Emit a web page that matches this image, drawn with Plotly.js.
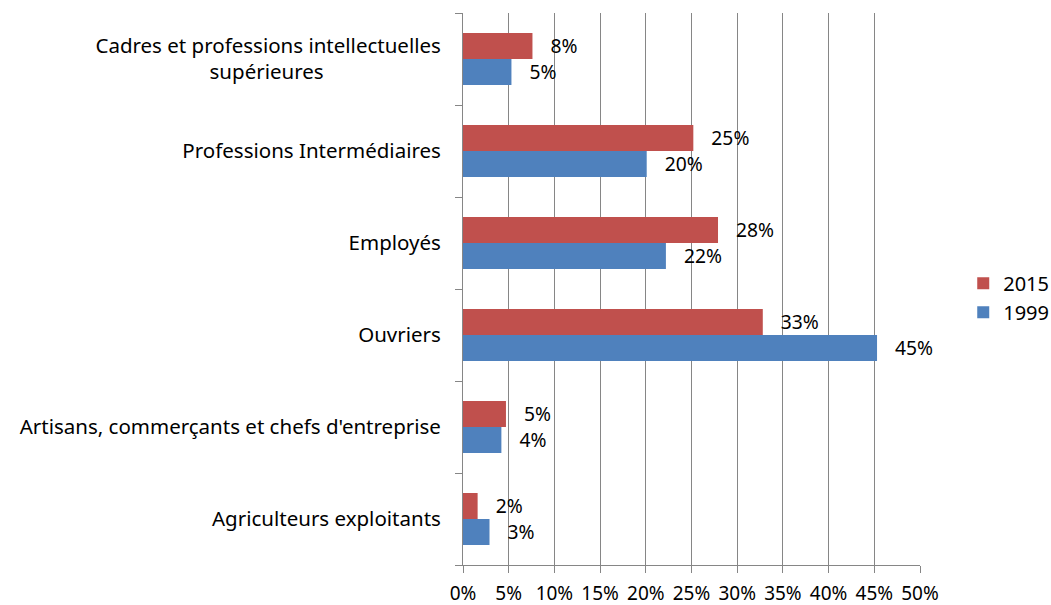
<!DOCTYPE html>
<html>
<head>
<meta charset="utf-8">
<script src="https://cdn.plot.ly/plotly-3.0.1.min.js"></script>
<style>html,body{margin:0;padding:0;background:#fff;}</style>
</head>
<body>
<div id="chart" style="width:1051px;height:605px;"></div>
<script>
var NB = "\u00a0";
function padRight(s, n){ var r = s; for (var i = 0; i < n; i++) r += NB; return r; }

var categories = [
  "Agriculteurs exploitants",
  "Artisans, commerçants et chefs d'entreprise",
  "Ouvriers",
  "Employés",
  "Professions Intermédiaires",
  "Cadres et professions intellectuelles<br>" + padRight("supérieures", 22)
];
var values1999 = [2.9, 4.2, 45.3, 22.2, 20.1, 5.3];
var values2015 = [1.6, 4.7, 32.8, 27.9, 25.2, 7.6];
var xTickVals = [0, 5, 10, 15, 20, 25, 30, 35, 40, 45, 50];
var xTickText = ["0%", "5%", "10%", "15%", "20%", "25%", "30%", "35%", "40%", "45%", "50%"];

var FONT = "Noto Sans, sans-serif";
var pad = NB + NB + NB;

var traces = [
  {
    type: "bar", orientation: "h", name: "1999",
    y: categories, x: values1999,
    marker: {color: "#4F81BD"},
    text: values1999.map(function(v){ return pad + Math.round(v) + "%"; }),
    textposition: "outside", cliponaxis: false,
    textfont: {family: FONT, size: 20, color: "#000"},
    hoverinfo: "skip"
  },
  {
    type: "bar", orientation: "h", name: "2015",
    y: categories, x: values2015,
    marker: {color: "#C0504D"},
    text: values2015.map(function(v){ return pad + Math.round(v) + "%"; }),
    textposition: "outside", cliponaxis: false,
    textfont: {family: FONT, size: 20, color: "#000"},
    hoverinfo: "skip"
  }
];

var layout = {
  width: 1051, height: 605,
  margin: {l: 463, r: 131, t: 13, b: 40, pad: 0, autoexpand: false},
  paper_bgcolor: "#fff", plot_bgcolor: "#fff",
  barmode: "group", bargap: 0.435, bargroupgap: 0,
  font: {family: FONT, size: 20, color: "#000"},
  xaxis: {
    range: [0, 50], tickmode: "array", tickvals: xTickVals, ticktext: xTickText,
    showgrid: true, gridcolor: "#868686", gridwidth: 1,
    zeroline: false, showline: true, linecolor: "#868686", linewidth: 1,
    ticks: "outside", ticklen: 7, tickcolor: "#868686",
    ticklabelstandoff: 4,
    tickfont: {family: FONT, size: 19, color: "#000"},
    automargin: false,
    fixedrange: true
  },
  yaxis: {
    type: "category", tickson: "boundaries",
    showgrid: false, zeroline: false,
    showline: true, linecolor: "#868686", linewidth: 1,
    ticks: "outside", ticklen: 7, tickcolor: "#868686",
    ticklabelstandoff: 17,
    tickfont: {family: FONT, size: 20.5, color: "#000"},
    automargin: false,
    fixedrange: true
  },
  legend: {
    xref: "container", yref: "container",
    x: 0.9165, y: 0.508, xanchor: "left", yanchor: "middle",
    traceorder: "reversed",
    font: {family: FONT, size: 20, color: "#000"},
    bgcolor: "rgba(0,0,0,0)"
  },
  showlegend: true
};

Plotly.newPlot("chart", traces, layout, {staticPlot: true, displayModeBar: false});
</script>
</body>
</html>
